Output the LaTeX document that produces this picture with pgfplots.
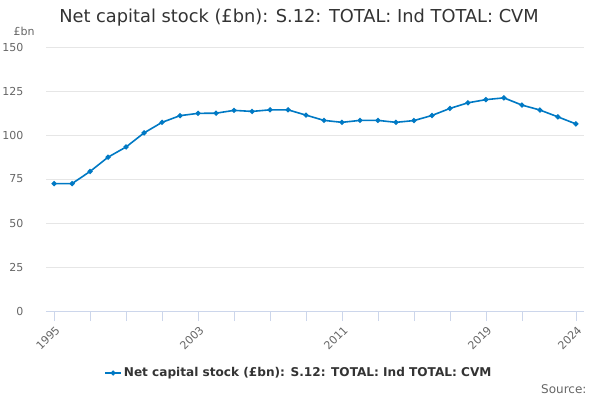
\documentclass[border=0pt]{standalone}
\usepackage{pgfplots}
\pgfplotsset{compat=1.18}
\usepackage{fontspec}
\setmainfont{DejaVu Sans}
\definecolor{series}{RGB}{0,121,196}
\definecolor{gridc}{HTML}{E6E6E6}
\definecolor{axisc}{HTML}{CCD6EB}
\definecolor{labc}{HTML}{666666}
\definecolor{titc}{HTML}{333333}

\begin{document}
\begin{tikzpicture}
    \path[use as bounding box] (0pt,0pt) rectangle (600pt,-400pt);
    \node[text=titc, font=\fontsize{17.8}{20}\selectfont] at (299pt,-18pt) {Net capital stock (£bn): S.12: TOTAL: Ind TOTAL: CVM};
    \node[text=labc, font=\fontsize{11}{13}\selectfont, anchor=west] at (10pt,-31pt) {£bn};
    \node[text=labc, font=\fontsize{12}{14}\selectfont, anchor=east] at (590pt,-389pt) {Source:};
    \begin{axis}[
        at={(46pt,-311pt)}, anchor=south west,
        scale only axis,
        width=538pt, height=264pt,
        xmin=1994.55, xmax=2024.45,
        ymin=0, ymax=150,
        xtick={1995,2003,2011,2019,2024},
        minor xtick={1997,1999,2001,2005,2007,2009,2013,2015,2017,2021},
        xticklabels={1995,2003,2011,2019,2024},
        ytick={0,25,...,150},
        axis x line*=bottom,
        axis y line*=left,
        y axis line style={draw=none},
        x axis line style={draw=axisc, line width=0.8pt},
        ytick style={draw=none},
        xtick style={draw=axisc, line width=0.8pt},
        tick align=outside,
        major tick length=10pt,
        minor tick length=10pt,
        ymajorgrids,
        grid style={draw=gridc, line width=0.8pt},
        tick label style={text=labc, font=\fontsize{11}{13}\selectfont},
        yticklabel style={xshift=-9pt},
        xticklabel style={rotate=45, anchor=north east, xshift=1pt, yshift=0pt},
        /pgf/number format/assume math mode=true,
        legend style={at={(0.47,-0.235)}, anchor=center, draw=none,
            font=\bfseries\fontsize{12.1}{14}\selectfont, text=titc,
            legend cell align=left},
        legend image code/.code={
            \draw[#1, mark=none] (0pt,0pt) -- (16pt,0pt);
            \fill[series] (8pt,0pt) circle (1.6pt);
        },
    ]
    \addplot[color=series, line width=1.6pt, mark=*, mark size=1.7pt] coordinates {
        (1995,72.4) (1996,72.4) (1997,79.3) (1998,87.4) (1999,93.2)
        (2000,101.2) (2001,107.2) (2002,111.0) (2003,112.3) (2004,112.4)
        (2005,114.0) (2006,113.4) (2007,114.3) (2008,114.3) (2009,111.3)
        (2010,108.3) (2011,107.2) (2012,108.3) (2013,108.3) (2014,107.2)
        (2015,108.2) (2016,111.1) (2017,115.1) (2018,118.3) (2019,120.1)
        (2020,121.1) (2021,117.0) (2022,114.2) (2023,110.3) (2024,106.3)
    };
    \addlegendentry{Net capital stock (£bn): S.12: TOTAL: Ind TOTAL: CVM}
    \end{axis}
\end{tikzpicture}
\end{document}
